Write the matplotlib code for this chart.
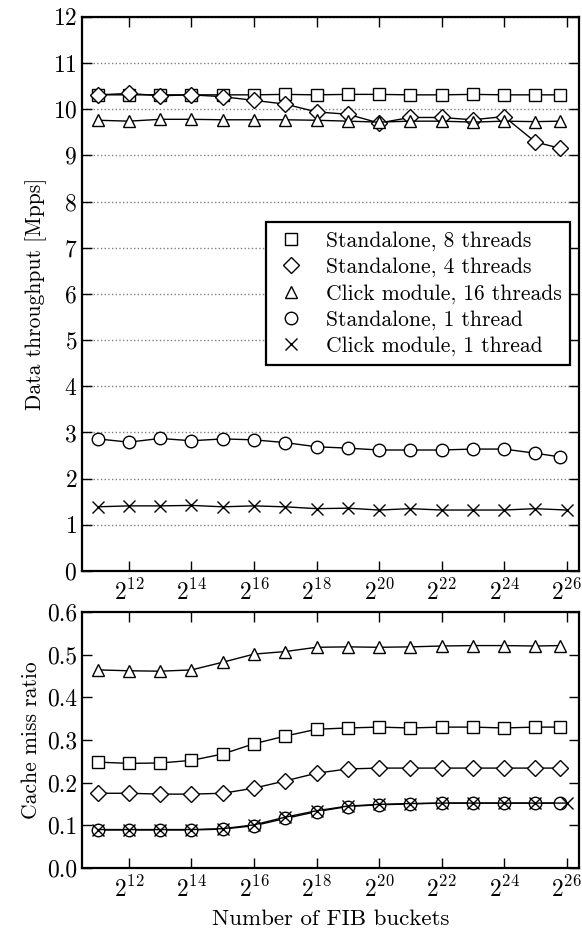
import matplotlib
matplotlib.use('Agg')
import matplotlib.pyplot as plt
from matplotlib.lines import Line2D
from matplotlib.ticker import FixedLocator, LogFormatterMathtext

plt.rcParams['font.family'] = ['cmr10']
plt.rcParams['mathtext.fontset'] = 'cm'
plt.rcParams['axes.formatter.use_mathtext'] = True
plt.rcParams['font.size'] = 15

# x positions as powers of two (last runs stop a bit short of 2^26)
exp_main = [11, 12, 13, 14, 15, 16, 17, 18, 19, 20, 21, 22, 23, 24, 25, 25.8]
exp_click1 = [11, 12, 13, 14, 15, 16, 17, 18, 19, 20, 21, 22, 23, 24, 25, 26]

labels = ['Standalone, 8 threads', 'Standalone, 4 threads',
          'Click module, 16 threads', 'Standalone, 1 thread',
          'Click module, 1 thread']
markers = ['s', 'D', '^', 'o', 'x']

# Data throughput [Mpps]
tp_sa8 = [10.31, 10.31, 10.31, 10.31, 10.31, 10.31, 10.32, 10.31, 10.32, 10.32, 10.31, 10.31, 10.32, 10.31, 10.31, 10.31]
tp_sa4 = [10.31, 10.34, 10.29, 10.31, 10.27, 10.19, 10.11, 9.94, 9.89, 9.70, 9.82, 9.82, 9.77, 9.84, 9.29, 9.15]
tp_click16 = [9.76, 9.74, 9.78, 9.78, 9.77, 9.77, 9.77, 9.76, 9.74, 9.72, 9.74, 9.74, 9.72, 9.74, 9.73, 9.74]
tp_sa1 = [2.86, 2.79, 2.87, 2.82, 2.86, 2.84, 2.78, 2.69, 2.66, 2.62, 2.62, 2.62, 2.64, 2.64, 2.55, 2.47]
tp_click1 = [1.39, 1.41, 1.41, 1.42, 1.39, 1.41, 1.39, 1.35, 1.36, 1.32, 1.35, 1.32, 1.32, 1.32, 1.35, 1.32]

# Cache miss ratio
cm_sa8 = [0.248, 0.245, 0.246, 0.252, 0.267, 0.291, 0.309, 0.325, 0.328, 0.330, 0.328, 0.330, 0.330, 0.328, 0.330, 0.330]
cm_sa4 = [0.175, 0.175, 0.173, 0.173, 0.175, 0.187, 0.204, 0.222, 0.232, 0.234, 0.234, 0.234, 0.234, 0.234, 0.234, 0.234]
cm_click16 = [0.464, 0.462, 0.461, 0.464, 0.482, 0.501, 0.507, 0.517, 0.518, 0.517, 0.518, 0.520, 0.521, 0.521, 0.520, 0.521]
cm_sa1 = [0.089, 0.089, 0.089, 0.089, 0.091, 0.099, 0.116, 0.132, 0.144, 0.148, 0.150, 0.152, 0.152, 0.152, 0.152, 0.152]
cm_click1 = [0.090, 0.090, 0.090, 0.090, 0.092, 0.101, 0.119, 0.134, 0.145, 0.149, 0.151, 0.152, 0.152, 0.152, 0.152, 0.152]

x_main = [2 ** e for e in exp_main]
x_click1 = [2 ** e for e in exp_click1]

fig = plt.figure(figsize=(5.82, 9.33), dpi=100)
ax1 = fig.add_axes([0.141, 0.388, 0.854, 0.594])
ax2 = fig.add_axes([0.141, 0.0697, 0.854, 0.2745])

def draw(ax, series):
    for (xs, ys), m in zip(series, markers):
        ax.plot(xs, ys, color='black', lw=1, marker=m, markersize=9 if m != 'D' else 8,
                markerfacecolor='white', markeredgecolor='black', markeredgewidth=1)

draw(ax1, [(x_main, tp_sa8), (x_main, tp_sa4), (x_main, tp_click16),
           (x_main, tp_sa1), (x_click1, tp_click1)])
draw(ax2, [(x_main, cm_sa8), (x_main, cm_sa4), (x_main, cm_click16),
           (x_main, cm_sa1), (x_click1, cm_click1)])

for ax in (ax1, ax2):
    ax.set_xscale('log', base=2)
    ax.set_xlim(2 ** 10.5, 2 ** 26.4)
    ax.xaxis.set_major_locator(FixedLocator([2 ** e for e in range(12, 27, 2)]))
    ax.xaxis.set_major_formatter(LogFormatterMathtext(base=2))
    ax.xaxis.set_minor_locator(FixedLocator([]))
    ax.tick_params(direction='in', top=True, right=True, length=7, width=1, labelsize=17)
    ax.tick_params(axis='x', pad=6)
    for s in ax.spines.values():
        s.set_linewidth(1.6)

ax1.set_ylim(0, 12)
ax1.set_yticks(range(0, 13))
ax1.yaxis.grid(True, linestyle=':', color='gray', lw=1)
ax1.set_ylabel('Data throughput [Mpps]', fontsize=15.5)

ax2.set_ylim(0, 0.6)
ax2.set_yticks([0.0, 0.1, 0.2, 0.3, 0.4, 0.5, 0.6])
ax2.set_yticklabels(['0.0', '0.1', '0.2', '0.3', '0.4', '0.5', '0.6'])
ax2.set_ylabel('Cache miss ratio', fontsize=15.5)
ax2.set_xlabel('Number of FIB buckets', fontsize=16.5, labelpad=6)

handles = [Line2D([], [], ls='none', marker=m, color='black', markersize=9 if m != 'D' else 8,
                  markerfacecolor='white', markeredgewidth=1) for m in markers]
leg = ax1.legend(handles, labels, loc='lower right', bbox_to_anchor=(0.982, 0.372),
                 fancybox=False, framealpha=1, edgecolor='black', fontsize=15.5,
                 borderaxespad=0, handlelength=1.6, handletextpad=0.8, labelspacing=0.3)
leg.get_frame().set_linewidth(1.6)

fig.savefig('out.png', dpi=100)
